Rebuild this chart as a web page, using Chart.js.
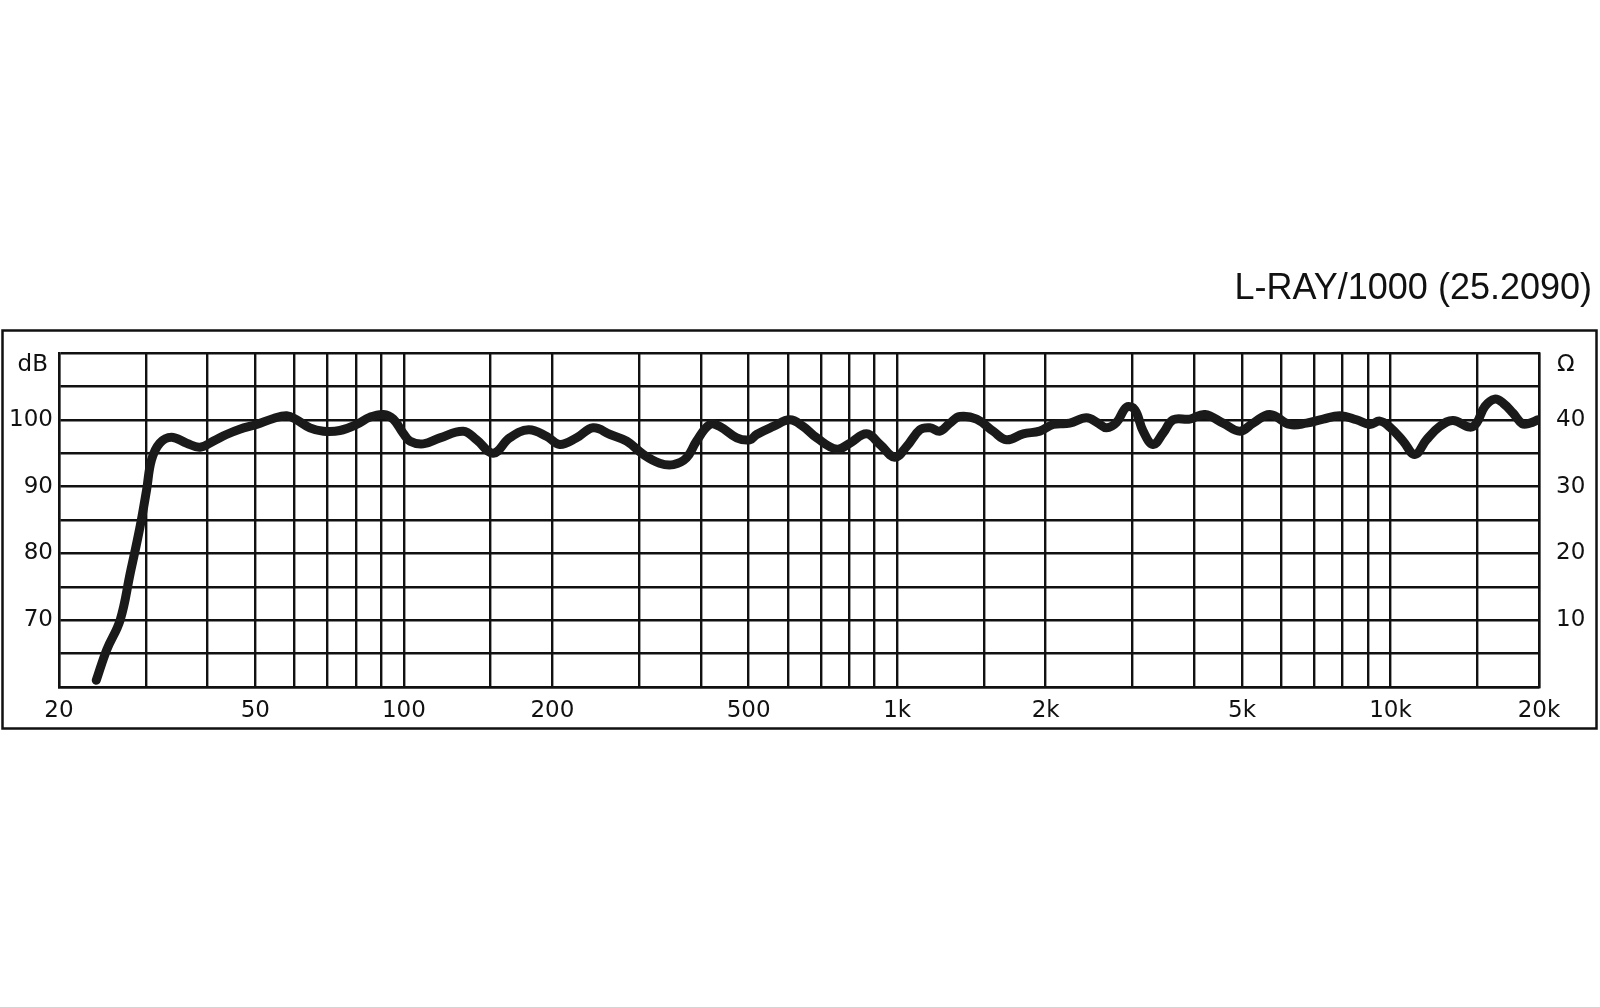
<!DOCTYPE html>
<html>
<head>
<meta charset="utf-8">
<title>L-RAY/1000 (25.2090)</title>
<script src="https://cdn.jsdelivr.net/npm/chart.js@4.4.1/dist/chart.umd.min.js"></script>
<style>
  html, body { margin: 0; padding: 0; background: #fff; }
  #wrap { position: relative; width: 1600px; height: 1007px; }
</style>
</head>
<body>
<div id="wrap"><canvas id="responseChart" width="1600" height="1007"></canvas></div>
<script>
        // Datos (frecuencia en Hz, nivel en dB)
        const chartTitle = 'L-RAY/1000 (25.2090)';

        const frequencies = [
            23.8, 25.0, 26.6, 27.9, 29.2, 30.1, 30.8, 32.0, 33.8, 36.3,
            38.6, 41.1, 43.7, 46.5, 50.3, 54.4, 57.9, 60.6, 64.5, 68.7,
            74.2, 80.2, 85.4, 90.9, 95.2, 99.7, 103, 109.5, 118.4, 132,
            140.5, 151.8, 164, 179, 195, 207, 224, 242, 262, 283,
            306, 330, 352, 374, 392, 417, 437, 473, 503, 519,
            561, 606, 645, 687, 754, 802, 867, 923, 989, 1045,
            1112, 1165, 1221, 1279, 1340, 1449, 1565, 1666, 1801, 1946,
            2071, 2238, 2420, 2555, 2658, 2784, 2918, 3032, 3152, 3302,
            3460, 3626, 3920, 4204, 4578, 4950, 5268, 5694, 6252, 6758,
            7304, 7898, 8534, 9080, 9515, 9970, 10610, 11200, 11830, 12590,
            13390, 14480, 14940, 15530, 16270, 16910, 17720, 18510, 19160, 19920
        ];

        const splValues = [
            61.0, 65.6, 70.0, 77.1, 84.0, 89.5, 94.0, 96.5, 97.4, 96.5,
            95.9, 96.8, 97.8, 98.6, 99.3, 100.2, 100.6, 100.0, 98.8, 98.3,
            98.4, 99.3, 100.4, 100.8, 100.1, 98.0, 96.8, 96.4, 97.3, 98.3,
            97.0, 95.0, 97.3, 98.5, 97.5, 96.3, 97.3, 98.8, 97.8, 96.8,
            94.8, 93.5, 93.3, 94.3, 96.8, 99.3, 99.0, 97.3, 97.0, 97.8,
            99.0, 100.0, 99.0, 97.3, 95.6, 96.5, 97.9, 96.3, 94.4, 96.0,
            98.5, 98.8, 98.3, 99.5, 100.5, 100.1, 98.3, 97.0, 97.9, 98.3,
            99.3, 99.5, 100.3, 99.5, 98.8, 99.6, 101.9, 101.5, 98.3, 96.3,
            98.0, 100.0, 100.1, 100.8, 99.5, 98.3, 99.5, 100.8, 99.3, 99.5,
            100.1, 100.6, 100.0, 99.3, 99.8, 98.9, 96.8, 94.8, 97.0, 99.0,
            99.9, 98.9, 99.5, 102.0, 103.1, 102.5, 101.0, 99.4, 99.5, 100.0
        ];

        // Lineas verticales de la reticula y sus etiquetas
        const gridFrequencies = [
            20, 30, 40, 50, 60, 70, 80, 90, 100, 150,
            200, 300, 400, 500, 600, 700, 800, 900, 1000, 1500,
            2000, 3000, 4000, 5000, 6000, 7000, 8000, 9000, 10000, 15000, 20000
        ];
        const freqLabelValues = [20, 50, 100, 200, 500, 1000, 2000, 5000, 10000, 20000];
        const freqLabelTexts = ['20', '50', '100', '200', '500', '1k', '2k', '5k', '10k', '20k'];

        const dbLabels = [70, 80, 90, 100];
        const ohmLabels = [10, 20, 30, 40];

        const ink = '#111111';
        const gridWidth = 2.4;
        const titleFont = '"Liberation Sans", Arial, sans-serif';
        const labelFont = '"DejaVu Sans", Verdana, sans-serif';

        // Marco exterior, titulo y unidades
        const framePlugin = {
            id: 'frame',
            beforeDraw(chart) {
                const ctx = chart.ctx;
                ctx.save();
                ctx.fillStyle = '#fff';
                ctx.fillRect(0, 0, chart.width, chart.height);
                ctx.strokeStyle = ink;
                ctx.lineWidth = 2.5;
                ctx.strokeRect(2.5, 330.5, 1594, 398);
                ctx.restore();
            },
            afterDraw(chart) {
                const ctx = chart.ctx;
                const area = chart.chartArea;
                ctx.save();
                ctx.fillStyle = ink;
                ctx.font = '36px ' + titleFont;
                ctx.textAlign = 'right';
                ctx.textBaseline = 'alphabetic';
                ctx.fillText(chartTitle, 1592, 299);

                ctx.font = '23px ' + labelFont;
                ctx.textBaseline = 'middle';
                ctx.textAlign = 'right';
                ctx.fillText('dB', area.left - 11, area.top + 12);
                ctx.textAlign = 'left';
                ctx.fillText('Ω', area.right + 18, area.top + 12);
                ctx.restore();
            }
        };

        const ctx = document.getElementById('responseChart').getContext('2d');
        const responseChart = new Chart(ctx, {
            type: 'line',
            data: {
                datasets: [{
                    label: 'SPL',
                    data: frequencies.map((f, i) => ({ x: f, y: splValues[i] })),
                    borderColor: '#1a1a1a',
                    borderWidth: 9,
                    borderCapStyle: 'round',
                    borderJoinStyle: 'round',
                    pointRadius: 0,
                    tension: 0.4,
                    fill: false
                }]
            },
            options: {
                responsive: false,
                animation: false,
                devicePixelRatio: 1,
                layout: {
                    padding: { top: 353, bottom: 280, left: 0, right: 0 }
                },
                plugins: {
                    legend: { display: false },
                    tooltip: { enabled: false }
                },
                scales: {
                    x: {
                        type: 'logarithmic',
                        min: 20,
                        max: 20000,
                        afterBuildTicks: function(axis) {
                            axis.ticks = gridFrequencies.map(v => ({ value: v }));
                        },
                        afterFit: function(axis) {
                            axis.height = 40;
                        },
                        grid: {
                            color: ink,
                            lineWidth: gridWidth,
                            drawTicks: false
                        },
                        border: { display: true, color: ink, width: gridWidth },
                        ticks: {
                            autoSkip: false,
                            maxRotation: 0,
                            padding: 10,
                            color: ink,
                            font: { family: labelFont, size: 23 },
                            callback: function(value) {
                                const idx = freqLabelValues.indexOf(value);
                                return idx >= 0 ? freqLabelTexts[idx] : '';
                            }
                        }
                    },
                    y: {
                        type: 'linear',
                        position: 'left',
                        min: 60,
                        max: 110,
                        afterFit: function(axis) {
                            axis.width = 59;
                        },
                        grid: {
                            color: ink,
                            lineWidth: gridWidth,
                            drawTicks: false
                        },
                        border: { display: true, color: ink, width: gridWidth },
                        ticks: {
                            stepSize: 5,
                            padding: 6,
                            color: ink,
                            font: { family: labelFont, size: 23 },
                            callback: function(value) {
                                return dbLabels.includes(value) ? String(value) : '';
                            }
                        }
                    },
                    y2: {
                        type: 'linear',
                        position: 'right',
                        min: 0,
                        max: 50,
                        afterFit: function(axis) {
                            axis.width = 61;
                        },
                        grid: { display: false, drawTicks: false },
                        border: { display: true, color: ink, width: gridWidth },
                        ticks: {
                            stepSize: 10,
                            padding: 17,
                            color: ink,
                            font: { family: labelFont, size: 23 },
                            callback: function(value) {
                                return ohmLabels.includes(value) ? String(value) : '';
                            }
                        }
                    }
                }
            },
            plugins: [framePlugin]
        });
</script>
</body>
</html>
